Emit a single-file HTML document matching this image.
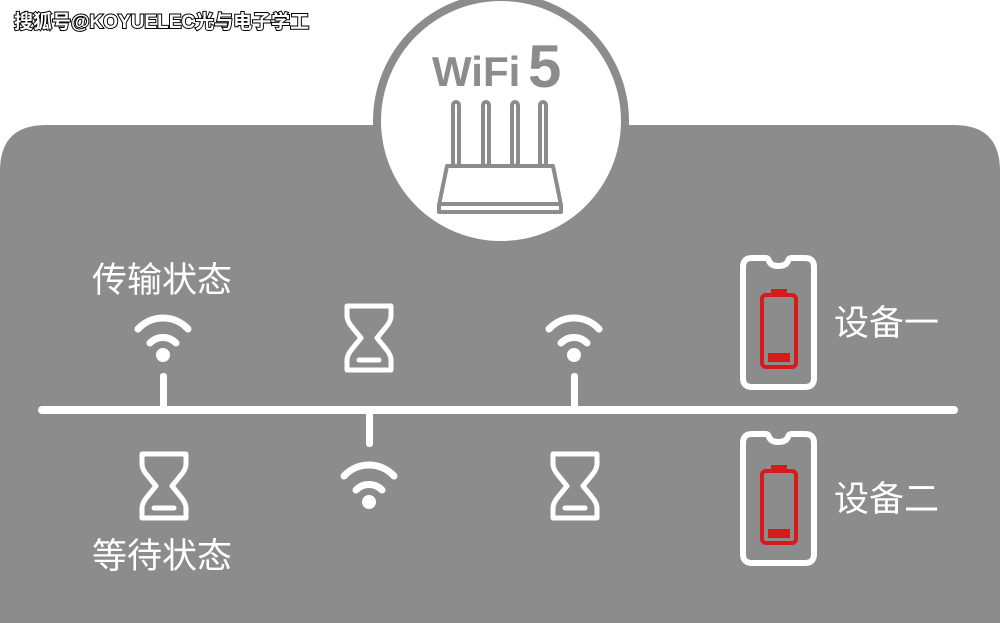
<!DOCTYPE html>
<html><head><meta charset="utf-8"><style>
html,body{margin:0;padding:0;background:#fff;width:1000px;height:623px;overflow:hidden}
svg{display:block}
</style></head><body>
<svg width="1000" height="623" viewBox="0 0 1000 623" xmlns="http://www.w3.org/2000/svg">
<defs>
<g id="wifi" fill="none" stroke="#fff" stroke-width="7" stroke-linecap="round">
  <path d="M-13,-12 A18,18 0 0 1 13,-12"/>
  <path d="M-25,-26 A34,34 0 0 1 25,-26"/>
  <circle cx="0" cy="0" r="7" fill="#fff" stroke="none"/>
</g>
<g id="hg" fill="none" stroke="#fff" stroke-width="5" stroke-linejoin="round" stroke-linecap="round">
  <path d="M3,3 H47 V13 Q47,18 42,24 L33,35 L42,46 Q47,52 47,57 V67 H3 V57 Q3,52 8,46 L17,35 L8,24 Q3,18 3,13 Z"/>
  <path d="M15,57 H35"/>
</g>
<g id="phone">
  <path d="M12,3 H26 Q28,3 29,6 Q31,11 38.5,11 Q46,11 48,6 Q49,3 51,3 H65 Q74,3 74,12 V123 Q74,132 65,132 H12 Q3,132 3,123 V12 Q3,3 12,3 Z" fill="none" stroke="#fff" stroke-width="6"/>
  <rect x="22" y="40" width="34" height="72" rx="4" fill="none" stroke="#d71a1b" stroke-width="4"/>
  <rect x="31" y="34" width="16" height="6" fill="#d71a1b"/>
  <rect x="28" y="98" width="22" height="9" fill="#d71a1b"/>
</g>
</defs>
<path d="M46,125 H954 Q1000,125 1000,171 V623 H0 V171 Q0,125 46,125 Z" fill="#8c8c8c"/>
<circle cx="501" cy="121" r="128" fill="#8c8c8c"/>
<circle cx="501" cy="121" r="120" fill="#fff"/>
<text x="432" y="86" font-family="Liberation Sans, sans-serif" font-weight="bold" font-size="42" fill="#8c8c8c" letter-spacing="0">WiFi</text>
<text x="528" y="87" font-family="Liberation Sans, sans-serif" font-weight="bold" font-size="60" fill="#8c8c8c">5</text>
<g fill="none" stroke="#8c8c8c" stroke-width="4" stroke-linejoin="round">
  <rect x="453" y="102" width="6" height="64" rx="3"/>
  <rect x="483" y="102" width="6" height="64" rx="3"/>
  <rect x="512" y="102" width="6" height="64" rx="3"/>
  <rect x="540" y="102" width="6" height="64" rx="3"/>
  <path d="M447,166 H553 L561,205 V212 H439 V205 Z"/>
  <path d="M439,204 H561"/>
</g>
<rect x="38" y="406" width="920" height="8" rx="4" fill="#fff"/>
<rect x="160" y="373" width="7" height="37" rx="3" fill="#fff"/>
<rect x="571" y="373" width="7" height="37" rx="3" fill="#fff"/>
<rect x="366" y="410" width="7" height="37" rx="3" fill="#fff"/>
<use href="#wifi" x="163" y="355"/>
<use href="#wifi" x="574" y="355"/>
<use href="#wifi" x="369" y="502"/>
<use href="#hg" x="344" y="303"/>
<use href="#hg" x="139" y="451"/>
<use href="#hg" x="550" y="451"/>
<use href="#phone" x="740" y="255"/>
<use href="#phone" x="740" y="431"/>
<g font-family="Liberation Sans, 'Noto Sans CJK SC', sans-serif" font-size="35" fill="#fff">
<text x="92" y="292">传输状态</text>
<text x="92" y="568">等待状态</text>
<text x="834" y="335">设备一</text>
<text x="834" y="511">设备二</text>
</g>
<text x="14" y="28" font-family="Liberation Sans, 'Noto Sans CJK SC', sans-serif" font-size="19" font-weight="bold" fill="#fff" stroke="#000" stroke-width="2" paint-order="stroke">搜狐号@KOYUELEC光与电子学工</text>
</svg>
</body></html>
